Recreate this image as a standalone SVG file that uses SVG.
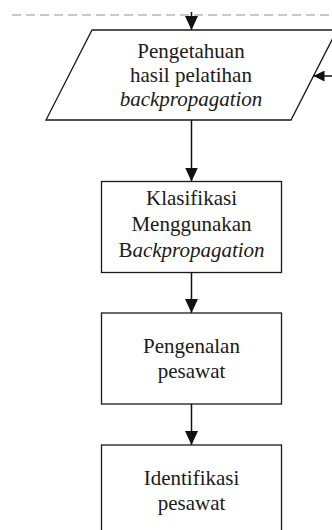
<svg xmlns="http://www.w3.org/2000/svg" width="332" height="530" viewBox="0 0 332 530">
  <style>
    .shape { fill: #ffffff; stroke: #1a1a1a; stroke-width: 1.3; }
    .label { font-family: "Liberation Serif", "Times New Roman", serif; font-size: 21px; fill: #1a1a1a; text-anchor: middle; }
    .it { font-style: italic; }
    .edge { fill: none; stroke: #111111; stroke-width: 1.5; }
    .divider { fill: none; stroke: #b8b8b8; stroke-width: 1.5; stroke-dasharray: 9 5; }
  </style>
  <defs>
    <marker id="head" markerUnits="userSpaceOnUse" markerWidth="14" markerHeight="13" refX="14" refY="6.5" orient="auto">
      <path d="M0,0 L14,6.5 L0,13 Z" fill="#111111"/>
    </marker>
    <marker id="headSmall" markerUnits="userSpaceOnUse" markerWidth="11" markerHeight="11" refX="11" refY="5.5" orient="auto">
      <path d="M0,0 L11,5.5 L0,11 Z" fill="#111111"/>
    </marker>
  </defs>

  <rect width="332" height="530" fill="#ffffff"/>

  <!-- section divider -->
  <line class="divider" x1="12" y1="15" x2="332" y2="15"/>

  <!-- nodes -->
  <g id="pengetahuan">
    <polygon class="shape" points="92,30 337,30 291,120 46,120"/>
    <text class="label" x="191" y="57.5">Pengetahuan</text>
    <text class="label" x="191" y="81.5">hasil pelatihan</text>
    <text class="label it" x="191" y="105.5">backpropagation</text>
  </g>

  <g id="klasifikasi">
    <rect class="shape" x="101.5" y="181.5" width="180" height="91"/>
    <text class="label" x="191.5" y="205">Klasifikasi</text>
    <text class="label" x="191.5" y="231">Menggunakan</text>
    <text class="label" x="191.5" y="257">B<tspan class="it">ackpropagation</tspan></text>
  </g>

  <g id="pengenalan">
    <rect class="shape" x="101.5" y="313" width="180" height="91"/>
    <text class="label" x="191.5" y="353">Pengenalan</text>
    <text class="label" x="191.5" y="378">pesawat</text>
  </g>

  <g id="identifikasi">
    <rect class="shape" x="101.5" y="445" width="180" height="100"/>
    <text class="label" x="191.5" y="485">Identifikasi</text>
    <text class="label" x="191.5" y="510">pesawat</text>
  </g>

  <!-- connectors -->
  <g id="connectors">
    <line class="edge" x1="191.5" y1="12" x2="191.5" y2="30" marker-end="url(#head)"/>
    <line class="edge" x1="332" y1="76" x2="313.5" y2="76" marker-end="url(#headSmall)"/>
    <line class="edge" x1="191.5" y1="120" x2="191.5" y2="181.5" marker-end="url(#head)"/>
    <line class="edge" x1="191.5" y1="272.5" x2="191.5" y2="313" marker-end="url(#head)"/>
    <line class="edge" x1="191.5" y1="404" x2="191.5" y2="445" marker-end="url(#head)"/>
  </g>
</svg>
